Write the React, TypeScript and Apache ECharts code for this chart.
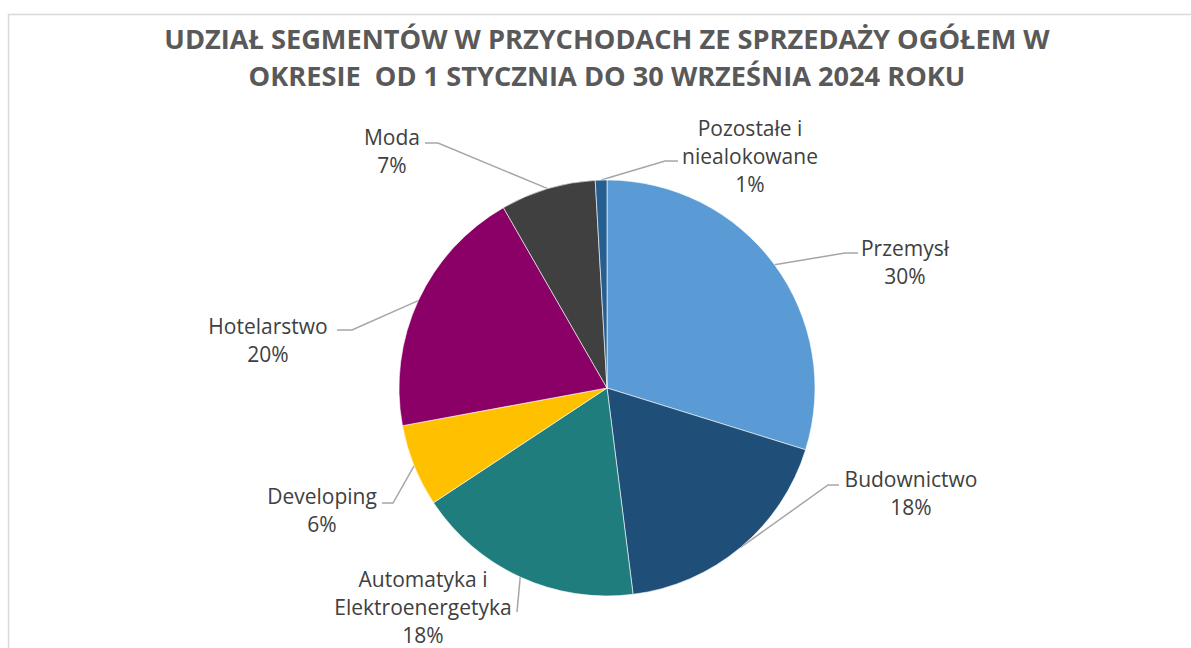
import React, { useEffect, useRef } from "react";
import * as echarts from "echarts";

const TITLE_LINES = [
  "UDZIAŁ SEGMENTÓW W PRZYCHODACH ZE SPRZEDAŻY OGÓŁEM W",
  "OKRESIE  OD 1 STYCZNIA DO 30 WRZEŚNIA 2024 ROKU",
];

const CATEGORIES = [
  "Przemysł",
  "Budownictwo",
  "Automatyka i\nElektroenergetyka",
  "Developing",
  "Hotelarstwo",
  "Moda",
  "Pozostałe i\nniealokowane",
];

const VALUES = [29.8, 18.2, 17.7, 6.4, 19.6, 7.4, 0.9];

const COLORS = [
  "#5B9BD5",
  "#1F4E79",
  "#1F7D7D",
  "#FFC000",
  "#8B0066",
  "#404040",
  "#255E91",
];

// label placement (layout only)
const LABEL_LAYOUT = [
  { x: 905, y: 262, elbow: [845, 253], end: [858, 253] },
  { x: 911, y: 493, elbow: [828, 485], end: [839, 485] },
  { x: 423, y: 607, elbow: [517, 612], end: [517, 612] },
  { x: 322, y: 510, elbow: [393, 503], end: [382, 503] },
  { x: 268, y: 340, elbow: [352, 330], end: [337, 330] },
  { x: 392, y: 151, elbow: [438, 143], end: [425, 143] },
  { x: 750, y: 156, elbow: [665, 161], end: [678, 161] },
];

export default function App() {
  const ref = useRef<HTMLDivElement>(null);
  useEffect(() => {
    if (!ref.current) return;
    const chart = echarts.init(ref.current, undefined, { renderer: "svg" });
    chart.setOption({
      animation: false,
      backgroundColor: "#ffffff",
      title: {
        text: TITLE_LINES.join("\n"),
        left: 602,
        top: 15,
        textAlign: "center",
        textStyle: {
          fontFamily: "Open Sans",
          fontWeight: "bold",
          fontSize: 27.2,
          color: "#595959",
          lineHeight: 37,
        },
      },
      graphic: [
        {
          type: "rect",
          shape: { x: 8.5, y: 14.5, width: 1300, height: 800 },
          style: { fill: "none", stroke: "#D9D9D9", lineWidth: 1.5 },
          silent: true,
          z: -1,
        },
      ],
      series: [
        {
          type: "pie",
          center: [607, 388],
          radius: 208,
          startAngle: 90,
          clockwise: true,
          avoidLabelOverlap: false,
          itemStyle: { borderColor: "#ffffff", borderWidth: 0.6 },
          label: {
            show: true,
            position: "outside",
            fontFamily: "Open Sans",
            fontSize: 21,
            lineHeight: 28,
            color: "#404040",
            align: "center",
            formatter: (p: any) => `${p.name}\n${Math.round(p.percent)}%`,
          },
          labelLine: {
            show: true,
            lineStyle: { color: "#A6A6A6", width: 1.5 },
          },
          labelLayout: (params: any) => {
            const L = LABEL_LAYOUT[params.dataIndex];
            const p0 = params.labelLinePoints
              ? params.labelLinePoints[0]
              : L.elbow;
            return {
              x: L.x,
              y: L.y,
              align: "center",
              verticalAlign: "middle",
              labelLinePoints: [p0, L.elbow, L.end],
            };
          },
          data: CATEGORIES.map((name, i) => ({
            name,
            value: VALUES[i],
            itemStyle: { color: COLORS[i] },
          })),
        },
      ],
    });
    return () => chart.dispose();
  }, []);
  return (
    <div
      ref={ref}
      style={{ position: "absolute", left: 0, top: 0, width: 1191, height: 648 }}
    />
  );
}
